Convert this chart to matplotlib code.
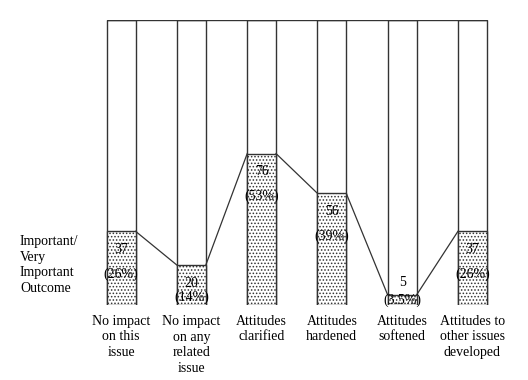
import matplotlib.pyplot as plt
import numpy as np

plt.rcParams['font.family'] = ['Liberation Serif', 'DejaVu Serif']
plt.rcParams['hatch.linewidth'] = 0.7

categories = ['No impact\non this\nissue', 'No impact\non any\nrelated\nissue',
              'Attitudes\nclarified', 'Attitudes\nhardened', 'Attitudes\nsoftened',
              'Attitudes to\nother issues\ndeveloped']
counts = [37, 20, 76, 56, 5, 37]
pcts = ['(26%)', '(14%)', '(53%)', '(39%)', '(3.5%)', '(26%)']
total = 143

fig = plt.figure(figsize=(5.28, 3.80), dpi=100)
ax = fig.add_axes([86 / 528, 75 / 380, 421.5 / 528, 285 / 380])
x = np.arange(len(counts))
w = 0.41

# white full-height bars, stippled part for the outcome count
ax.bar(x, [total] * len(x), width=w, color='white', edgecolor='#333333', lw=1)
ax.bar(x, counts, width=w, color='white', edgecolor='#333333', lw=1, hatch='.....')
ax.hlines(total, x[0] - w / 2, x[-1] + w / 2, color='#333333', lw=1)

# lines joining tops of adjacent bars
for i in range(len(x) - 1):
    ax.plot([x[i] + w / 2, x[i + 1] - w / 2], [counts[i], counts[i + 1]],
            color='#333333', lw=0.9)

fs = 10
px = 285 / total  # pixels per unit
for i, (c, p) in enumerate(zip(counts, pcts)):
    if c < 10:
        ax.annotate(str(c), (x[i], c), xytext=(0, 6), textcoords='offset pixels',
                    ha='center', va='bottom', fontsize=fs)
        ax.annotate(p, (x[i], 0), xytext=(0, 5), textcoords='offset pixels',
                    ha='center', va='center', fontsize=fs)
    else:
        ax.annotate(str(c), (x[i], c), xytext=(0, -18), textcoords='offset pixels',
                    ha='center', va='center', fontsize=fs)
        off = min(43, c * px - 8)
        ax.annotate(p, (x[i], c), xytext=(0, -off), textcoords='offset pixels',
                    ha='center', va='center', fontsize=fs)

for i, lab in enumerate(categories):
    ax.annotate(lab, (x[i], 0), xytext=(0, -10), textcoords='offset pixels',
                ha='center', va='top', fontsize=fs, linespacing=1.25)

fig.text(20 / 528, 1 - 235 / 380, 'Important/\nVery\nImportant\nOutcome',
         ha='left', va='top', fontsize=fs, linespacing=1.25)

ax.set_xlim(-0.5, len(x) - 0.5)
ax.set_ylim(0, total)
ax.axis('off')

fig.savefig('out.png', dpi=100)
